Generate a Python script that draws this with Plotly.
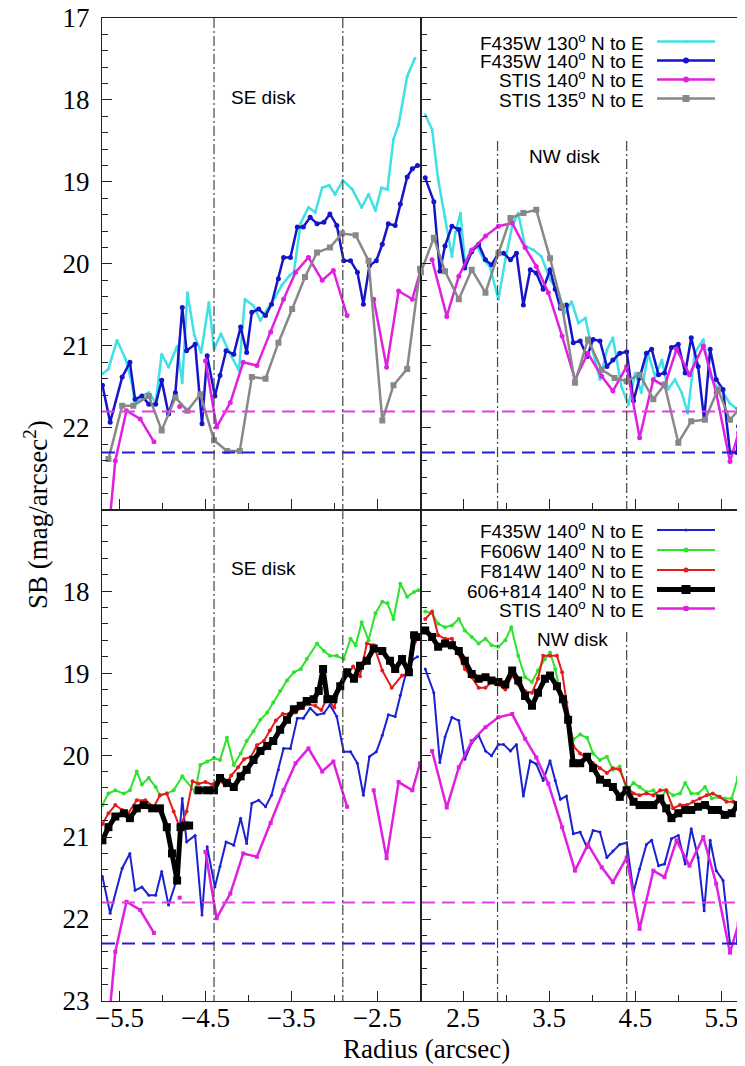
import plotly.graph_objects as go
from plotly.subplots import make_subplots

# ---------------- data ----------------
# F435W 130 deg (top panels only)
F435W_130_SE_R = [-5.70, -5.63, -5.53, -5.43, -5.36, -5.32, -5.24, -5.16, -5.08, -5.01, -4.93, -4.83, -4.77, -4.71,
                  -4.63, -4.55, -4.46, -4.40, -4.32, -4.23, -4.11, -4.04, -3.94, -3.86, -3.78, -3.69, -3.61, -3.52,
                  -3.47, -3.39, -3.30, -3.22, -3.14, -3.06, -2.99, -2.90, -2.79, -2.68, -2.60, -2.52, -2.45, -2.38,
                  -2.31, -2.25, -2.15, -2.06]
F435W_130_SE_SB = [21.34, 21.28, 20.93, 21.16, 21.44, 21.71, 21.61, 21.57, 21.69, 21.10, 21.26, 21.00, 21.45, 20.35,
                   20.87, 21.08, 20.47, 21.04, 20.85, 21.06, 21.30, 20.43, 20.51, 20.69, 20.55, 20.41, 20.26, 20.14,
                   20.10, 19.50, 19.31, 19.37, 19.07, 19.04, 19.15, 18.98, 19.09, 19.31, 19.15, 19.35, 19.07, 19.09,
                   18.48, 18.30, 17.71, 17.49]
F435W_130_NW_R = [2.06, 2.14, 2.21, 2.29, 2.37, 2.41, 2.47, 2.52, 2.58, 2.66, 2.74, 2.81, 2.91, 2.99, 3.07, 3.14,
                  3.22, 3.32, 3.41, 3.51, 3.61, 3.68, 3.76, 3.84, 3.92, 3.99, 4.09, 4.17, 4.24, 4.34, 4.42, 4.50,
                  4.57, 4.65, 4.73, 4.81, 4.88, 4.96, 5.04, 5.11, 5.19, 5.29, 5.37, 5.44, 5.52, 5.60, 5.69]
F435W_130_NW_SB = [18.18, 18.36, 18.97, 19.42, 19.91, 19.62, 19.38, 19.99, 19.85, 19.78, 19.95, 20.03, 20.43, 19.95,
                   19.54, 19.38, 19.78, 19.83, 19.91, 20.19, 20.35, 20.60, 20.46, 20.72, 20.66, 21.00, 21.41, 21.05,
                   20.90, 21.50, 21.72, 21.33, 21.57, 21.09, 21.37, 21.17, 21.53, 21.41, 21.57, 21.82, 21.09, 20.92,
                   21.37, 21.49, 21.57, 21.70, 21.78]

# F435W 140 deg (both panels)
F435W_140_SE_R = [-5.70, -5.61, -5.47, -5.38, -5.32, -5.24, -5.16, -5.08, -5.01, -4.93, -4.85, -4.77, -4.72, -4.62,
                  -4.54, -4.48, -4.39, -4.33, -4.26, -4.17, -4.09, -4.02, -3.96, -3.88, -3.80, -3.73, -3.65, -3.59,
                  -3.51, -3.43, -3.36, -3.28, -3.20, -3.12, -3.05, -2.97, -2.89, -2.81, -2.73, -2.66, -2.59, -2.51,
                  -2.44, -2.37, -2.29, -2.23, -2.15, -2.09, -2.03]
F435W_140_SE_SB = [21.48, 21.93, 21.38, 21.20, 21.65, 21.61, 21.71, 21.71, 21.42, 21.83, 21.57, 20.53, 21.06, 20.98,
                   21.95, 21.12, 21.61, 21.36, 21.06, 21.10, 20.77, 21.08, 20.59, 20.55, 20.63, 20.49, 20.18, 19.92,
                   19.92, 19.55, 19.55, 19.43, 19.51, 19.49, 19.39, 19.53, 19.96, 19.96, 20.10, 20.49, 20.02, 19.96,
                   19.76, 19.51, 19.53, 19.27, 18.94, 18.84, 18.80]
F435W_140_NW_R = [2.06, 2.16, 2.23, 2.29, 2.37, 2.45, 2.52, 2.60, 2.68, 2.76, 2.83, 2.91, 2.97, 3.05, 3.12, 3.20,
                  3.28, 3.35, 3.43, 3.51, 3.57, 3.63, 3.70, 3.78, 3.86, 3.94, 4.01, 4.09, 4.17, 4.24, 4.32, 4.40,
                  4.48, 4.55, 4.63, 4.69, 4.77, 4.84, 4.92, 5.00, 5.08, 5.15, 5.23, 5.30, 5.37, 5.44, 5.52, 5.60,
                  5.68, 5.70]
F435W_140_NW_SB = [18.95, 19.24, 20.09, 19.78, 19.54, 19.58, 20.05, 19.85, 19.76, 19.95, 20.01, 19.87, 19.87, 19.95,
                   19.87, 20.50, 20.07, 20.11, 20.31, 20.07, 20.31, 20.54, 20.50, 20.96, 20.94, 21.13, 20.92, 20.94,
                   21.25, 21.17, 21.09, 21.07, 21.67, 21.39, 21.09, 21.04, 21.35, 21.33, 21.02, 20.98, 21.33, 20.90,
                   21.25, 21.90, 21.04, 21.41, 21.53, 22.30, 22.30, 21.98]

# STIS 140 deg (both panels, with gaps)
STIS_140_SE_R = [-5.63, -5.55, -5.42, -5.26, -5.10, None, -4.80, None, -4.50, -4.37, -4.21, -4.06, -3.90, -3.74,
                 -3.59, -3.45, -3.30, -3.14, -3.01, -2.85, None, -2.54, -2.39, -2.25, -2.09, -2.00]
STIS_140_SE_SB = [23.30, 22.40, 21.79, 21.89, 22.17, None, 21.74, None, 21.18, 21.99, 21.69, 21.20, 21.24, 20.83,
                  20.43, 20.10, 19.92, 20.20, 20.08, 20.63, None, 20.43, 21.26, 20.33, 20.43, 20.10]
STIS_140_NW_R = [2.14, 2.31, 2.45, 2.60, 2.76, 2.91, 3.07, 3.22, 3.35, 3.49, 3.65, 3.80, 3.95, 4.11, 4.24, 4.40,
                 4.55, 4.71, 4.84, 4.98, 5.13, 5.29, 5.44, 5.60, 5.70]
STIS_140_NW_SB = [19.95, 20.64, 20.15, 19.83, 19.66, 19.54, 19.50, 19.80, 20.03, 20.35, 20.88, 21.41, 21.09, 21.37,
                  21.55, 21.25, 22.12, 21.41, 21.49, 21.04, 21.35, 21.00, 21.57, 22.41, 22.06]

# STIS 135 deg (top panels only)
STIS_135_SE_R = [-5.63, -5.47, -5.34, -5.16, -5.01, -4.85, -4.71, -4.56, -4.40, -4.25, -4.10, -3.96, -3.80, -3.65,
                 -3.49, -3.34, -3.20, -3.05, -2.91, -2.75, -2.60, -2.44, -2.31, -2.15, -2.00]
STIS_135_SE_SB = [22.38, 21.73, 21.73, 21.61, 22.03, 21.63, 21.79, 21.59, 22.15, 22.28, 22.28, 21.38, 21.40, 20.96,
                  20.55, 20.16, 19.86, 19.80, 19.63, 19.65, 19.96, 21.91, 21.48, 21.28, 20.06]
STIS_135_NW_R = [2.01, 2.16, 2.29, 2.45, 2.60, 2.76, 2.91, 3.05, 3.20, 3.35, 3.51, 3.65, 3.80, 3.95, 4.11, 4.26,
                 4.40, 4.55, 4.71, 4.84, 5.00, 5.15, 5.31, 5.46, 5.60, 5.70]
STIS_135_NW_SB = [20.10, 19.68, 20.09, 20.43, 20.07, 20.35, 19.87, 19.44, 19.38, 19.34, 19.93, 20.52, 21.45, 20.92,
                  21.29, 21.39, 21.43, 21.35, 21.65, 21.47, 22.18, 21.92, 21.90, 21.53, 21.90, 21.78]

# F606W 140 deg (bottom panels)
F606W_SE_R = [-5.70, -5.63, -5.55, -5.45, -5.38, -5.30, -5.24, -5.16, -5.08, -5.03, -4.95, -4.87, -4.77, -4.62,
              -4.56, -4.48, -4.40, -4.33, -4.25, -4.17, -4.09, -4.02, -3.94, -3.86, -3.78, -3.71, -3.63, -3.55,
              -3.47, -3.39, -3.32, -3.20, -3.12, -3.05, -2.97, -2.89, -2.81, -2.75, -2.68, -2.60, -2.52, -2.44,
              -2.38, -2.31, -2.23, -2.15, -2.07, -2.02]
F606W_SE_SB = [20.61, 20.47, 20.43, 20.47, 20.43, 20.20, 20.36, 20.28, 20.39, 20.49, 20.47, 20.43, 20.26, 20.45,
               20.12, 20.08, 20.04, 20.06, 19.79, 20.12, 19.98, 19.83, 19.71, 19.57, 19.48, 19.36, 19.22, 19.09,
               18.99, 18.95, 18.83, 18.64, 18.73, 18.79, 18.79, 18.83, 18.58, 18.66, 18.38, 18.60, 18.27, 18.13,
               18.15, 18.34, 17.91, 18.07, 18.01, 17.99]
F606W_NW_R = [2.06, 2.14, 2.21, 2.29, 2.37, 2.45, 2.52, 2.60, 2.68, 2.76, 2.83, 2.91, 2.99, 3.06, 3.14, 3.22, 3.30,
              3.37, 3.45, 3.51, 3.57, 3.63, 3.70, 3.78, 3.86, 3.94, 4.01, 4.09, 4.17, 4.24, 4.32, 4.40, 4.48, 4.55,
              4.63, 4.71, 4.79, 4.86, 4.94, 5.02, 5.08, 5.15, 5.23, 5.31, 5.39, 5.46, 5.54, 5.62, 5.69]
F606W_NW_SB = [18.25, 18.27, 18.40, 18.44, 18.42, 18.34, 18.48, 18.56, 18.64, 18.58, 18.66, 18.68, 18.60, 18.44,
               18.79, 19.05, 19.11, 18.97, 18.83, 18.75, 18.95, 19.24, 19.52, 19.81, 19.75, 19.79, 19.98, 20.06,
               20.02, 20.18, 20.14, 20.43, 20.34, 20.39, 20.45, 20.43, 20.53, 20.43, 20.49, 20.47, 20.34, 20.47,
               20.47, 20.39, 20.53, 20.51, 20.53, 20.53, 20.28]

# F814W 140 deg (bottom panels)
F814W_SE_R = [-5.70, -5.63, -5.55, -5.47, -5.40, -5.30, -5.20, -5.10, -5.03, -4.95, -4.87, -4.80, -4.72, -4.65,
              -4.58, -4.50, -4.42, -4.35, -4.27, -4.20, -4.12, -4.05, -3.97, -3.90, -3.82, -3.75, -3.68, -3.60,
              -3.53, -3.45, -3.38, -3.30, -3.22, -3.15, -3.08, -3.00, -2.93, -2.85, -2.78, -2.70, -2.62, -2.54,
              -2.44, -2.33, -2.21, -2.13, -2.06, -2.00]
F814W_SE_SB = [20.84, 20.71, 20.61, 20.67, 20.71, 20.55, 20.55, 20.63, 20.49, 20.47, 20.69, 20.88, 20.69, 20.32,
               20.35, 20.33, 20.36, 20.30, 20.37, 20.25, 20.15, 20.05, 20.02, 19.88, 19.83, 19.70, 19.58, 19.50,
               19.50, 19.48, 19.42, 19.38, 19.40, 19.45, 19.30, 19.42, 19.15, 19.03, 18.92, 19.04, 18.64, 18.66,
               18.97, 19.18, 19.03, 19.01, 18.62, 18.55]
F814W_NW_R = [2.06, 2.14, 2.21, 2.29, 2.37, 2.45, 2.52, 2.60, 2.68, 2.76, 2.83, 2.91, 2.99, 3.07, 3.14, 3.22, 3.30,
              3.37, 3.43, 3.51, 3.59, 3.65, 3.70, 3.78, 3.86, 3.94, 4.01, 4.09, 4.17, 4.24, 4.32, 4.40, 4.48, 4.55,
              4.63, 4.71, 4.79, 4.86, 4.94, 5.02, 5.10, 5.17, 5.25, 5.33, 5.40, 5.48, 5.56, 5.64, 5.69]
F814W_NW_SB = [18.34, 18.25, 18.54, 18.58, 18.58, 18.77, 18.95, 19.05, 19.18, 19.18, 19.11, 19.14, 19.20, 19.03,
               19.14, 19.22, 19.24, 19.07, 18.79, 18.79, 18.79, 18.99, 19.36, 19.89, 19.98, 20.04, 20.10, 20.16,
               20.22, 20.16, 20.18, 20.39, 20.47, 20.49, 20.47, 20.49, 20.43, 20.43, 20.65, 20.61, 20.61, 20.57,
               20.53, 20.49, 20.47, 20.51, 20.57, 20.57, 20.61]

# 606+814 140 deg (bottom panels, with a gap)
COMB_SE_R = [-5.70, -5.63, -5.55, -5.45, -5.38, -5.30, -5.22, -5.12, -5.03, -4.95, -4.89, -4.83, -4.79, -4.74, -4.69,
             None, -4.58, -4.48, -4.40, -4.33, -4.25, -4.17, -4.09, -4.02, -3.94, -3.86, -3.78, -3.71, -3.63, -3.55,
             -3.47, -3.39, -3.32, -3.24, -3.18, -3.13, -3.08, -3.01, -2.93, -2.85, -2.77, -2.70, -2.62, -2.54, -2.44,
             -2.35, -2.29, -2.21, -2.13, -2.07, -2.01]
COMB_SE_SB = [21.04, 20.88, 20.75, 20.71, 20.77, 20.65, 20.61, 20.65, 20.65, 20.88, 21.20, 21.53, 20.88, 20.86, 20.86,
              None, 20.43, 20.43, 20.43, 20.28, 20.34, 20.39, 20.26, 20.18, 20.06, 19.95, 19.89, 19.83, 19.69, 19.57,
              19.44, 19.40, 19.34, 19.32, 19.22, 18.95, 19.32, 19.32, 19.16, 18.99, 19.07, 18.91, 18.85, 18.70, 18.73,
              18.85, 18.95, 18.83, 18.99, 18.54, 18.56]
COMB_NW_R = [2.06, 2.14, 2.21, 2.29, 2.37, 2.45, 2.52, 2.60, 2.68, 2.76, 2.83, 2.91, 2.99, 3.07, 3.14, 3.22, 3.30,
             3.37, 3.45, 3.51, 3.59, 3.66, 3.72, 3.78, 3.86, 3.94, 4.01, 4.09, 4.17, 4.24, 4.32, 4.40, 4.48, 4.55,
             4.63, 4.71, 4.79, 4.86, 4.92, 5.00, 5.08, 5.15, 5.23, 5.31, 5.39, 5.46, 5.54, 5.62, 5.69]
COMB_NW_SB = [18.48, 18.56, 18.68, 18.64, 18.66, 18.73, 18.85, 19.01, 19.07, 19.05, 19.09, 19.11, 19.14, 18.97, 19.09,
              19.28, 19.40, 19.24, 19.07, 19.03, 19.16, 19.32, 19.57, 20.10, 20.10, 20.02, 20.16, 20.30, 20.34, 20.39,
              20.51, 20.43, 20.57, 20.61, 20.61, 20.61, 20.53, 20.65, 20.77, 20.71, 20.67, 20.67, 20.63, 20.61, 20.67,
              20.67, 20.73, 20.71, 20.61]

# reference levels and disk boundaries
LIMIT_STIS = 21.8
LIMIT_F435W = 22.3
DISK_EDGES_SE = [-4.4, -2.9]
DISK_EDGES_NW = [2.9, 4.4]

TOP_LEGEND = ["F435W 130<sup>o</sup> N to E", "F435W 140<sup>o</sup> N to E",
              "STIS 140<sup>o</sup> N to E", "STIS 135<sup>o</sup> N to E"]
BOT_LEGEND = ["F435W 140<sup>o</sup> N to E", "F606W 140<sup>o</sup> N to E", "F814W 140<sup>o</sup> N to E",
              "606+814 140<sup>o</sup> N to E", "STIS 140<sup>o</sup> N to E"]

for a, b in [(F435W_130_SE_R, F435W_130_SE_SB), (F435W_130_NW_R, F435W_130_NW_SB),
             (F435W_140_SE_R, F435W_140_SE_SB), (F435W_140_NW_R, F435W_140_NW_SB),
             (STIS_140_SE_R, STIS_140_SE_SB), (STIS_140_NW_R, STIS_140_NW_SB),
             (STIS_135_SE_R, STIS_135_SE_SB), (STIS_135_NW_R, STIS_135_NW_SB),
             (F606W_SE_R, F606W_SE_SB), (F606W_NW_R, F606W_NW_SB), (F814W_SE_R, F814W_SE_SB),
             (F814W_NW_R, F814W_NW_SB), (COMB_SE_R, COMB_SE_SB), (COMB_NW_R, COMB_NW_SB)]:
    assert len(a) == len(b), (len(a), len(b))

# ---------------- styling ----------------
CYAN = "#3fe0e6"
BLUE = "#1414c8"
BLUE2 = "#1a22d2"
MAG = "#e020e0"
GRAY = "#888888"
GREEN = "#2ee22e"
RED = "#e41c1c"
BLACK = "#000000"

# the page body has an 8px margin: size the figure so it fits in the window
OFF = 8
W, H = 745 - OFF, 1066 - OFF
ML, MR, MT, MB = 102 - OFF, 6, 18 - OFF, 65
PW, PH = W - ML - MR, H - MT - MB

fig = make_subplots(rows=2, cols=2, horizontal_spacing=0, vertical_spacing=0)


def add(r, sb, row, col, color, width, sym, size):
    fig.add_trace(go.Scatter(x=r, y=sb, mode="lines+markers",
                             line=dict(color=color, width=width),
                             marker=dict(symbol=sym, size=size, color=color, line=dict(width=0)),
                             showlegend=False, hoverinfo="skip"), row=row, col=col)


# top panels
add(F435W_130_SE_R, F435W_130_SE_SB, 1, 1, CYAN, 2.5, "circle", 3)
add(F435W_140_SE_R, F435W_140_SE_SB, 1, 1, BLUE, 2.5, "circle", 5)
add(STIS_140_SE_R, STIS_140_SE_SB, 1, 1, MAG, 2.5, "circle", 5)
add(STIS_135_SE_R, STIS_135_SE_SB, 1, 1, GRAY, 2.5, "square", 6)
add(F435W_130_NW_R, F435W_130_NW_SB, 1, 2, CYAN, 2.5, "circle", 3)
add(F435W_140_NW_R, F435W_140_NW_SB, 1, 2, BLUE, 2.5, "circle", 5)
add(STIS_140_NW_R, STIS_140_NW_SB, 1, 2, MAG, 2.5, "circle", 5)
add(STIS_135_NW_R, STIS_135_NW_SB, 1, 2, GRAY, 2.5, "square", 6)

# bottom panels
add(F435W_140_SE_R, F435W_140_SE_SB, 2, 1, BLUE2, 2, "circle", 3)
add(F606W_SE_R, F606W_SE_SB, 2, 1, GREEN, 2, "circle", 4)
add(F814W_SE_R, F814W_SE_SB, 2, 1, RED, 2, "circle", 4)
add(COMB_SE_R, COMB_SE_SB, 2, 1, BLACK, 5, "square", 8)
add(STIS_140_SE_R, STIS_140_SE_SB, 2, 1, MAG, 2.5, "square", 4)
add(F435W_140_NW_R, F435W_140_NW_SB, 2, 2, BLUE2, 2, "circle", 3)
add(F606W_NW_R, F606W_NW_SB, 2, 2, GREEN, 2, "circle", 4)
add(F814W_NW_R, F814W_NW_SB, 2, 2, RED, 2, "circle", 4)
add(COMB_NW_R, COMB_NW_SB, 2, 2, BLACK, 5, "square", 8)
add(STIS_140_NW_R, STIS_140_NW_SB, 2, 2, MAG, 2.5, "square", 4)

TICKFONT = dict(family="Liberation Serif", size=27, color="black")
common = dict(showgrid=False, zeroline=False, showline=True, linecolor="#222", linewidth=1.2,
              mirror=True, ticks="inside", ticklen=10, tickcolor="#222", tickwidth=1.2, tickfont=TICKFONT,
              automargin=False, ticklabeloverflow="allow")

xl = dict(range=[-5.705, -1.995], tick0=-5.5, dtick=1,
          minor=dict(tick0=-5.5, dtick=0.5, ticks="inside", ticklen=6, tickcolor="#222"))
xr = dict(range=[2.005, 5.705], tick0=2.5, dtick=1,
          minor=dict(tick0=2.5, dtick=0.5, ticks="inside", ticklen=6, tickcolor="#222"))
ymin = dict(tick0=17, dtick=1, minor=dict(tick0=17, dtick=0.2, ticks="inside", ticklen=6, tickcolor="#222"))

fig.update_xaxes(**common, **xl, showticklabels=False, row=1, col=1)
fig.update_xaxes(**common, **xr, showticklabels=False, row=1, col=2)
fig.update_xaxes(**common, **xl, showticklabels=True, ticklabelstandoff=-8, row=2, col=1)
fig.update_xaxes(**common, **xr, showticklabels=True, ticklabelstandoff=-8, row=2, col=2)
fig.update_yaxes(**common, **ymin, range=[22.995, 17], showticklabels=True, ticklabelstandoff=6, row=1, col=1)
fig.update_yaxes(**common, **ymin, range=[22.995, 17], showticklabels=False, row=1, col=2)
fig.update_yaxes(**common, **ymin, range=[23, 17.005], showticklabels=True, ticklabelstandoff=6, row=2, col=1)
fig.update_yaxes(**common, **ymin, range=[23, 17.005], showticklabels=False, row=2, col=2)

# horizontal detection limits
for yref in ["y", "y3"]:
    fig.add_shape(type="line", xref="paper", yref=yref, x0=0, x1=1, y0=LIMIT_STIS, y1=LIMIT_STIS,
                  line=dict(color="#e040e0", width=2, dash="13px,7px"))
    fig.add_shape(type="line", xref="paper", yref=yref, x0=0, x1=1, y0=LIMIT_F435W, y1=LIMIT_F435W,
                  line=dict(color="#2020d0", width=2, dash="13px,7px"))

# disk boundaries
DD = dict(color="#444", width=1.2, dash="10px,3px,2px,3px")
for xref, yref in [("x", "y"), ("x3", "y3")]:
    for xv in DISK_EDGES_SE:
        fig.add_shape(type="line", xref=xref, yref=yref, x0=xv, x1=xv, y0=17, y1=23, line=DD)
for xref, yref in [("x2", "y2"), ("x4", "y4")]:
    for xv in DISK_EDGES_NW:
        fig.add_shape(type="line", xref=xref, yref=yref, x0=xv, x1=xv, y0=18.5, y1=23, line=DD)

LABFONT = dict(family="Liberation Sans", size=19, color="black")
fig.add_annotation(x=-3.82, y=17.97, xref="x", yref="y", text="SE disk", showarrow=False, font=LABFONT)
fig.add_annotation(x=-3.82, y=17.72, xref="x3", yref="y3", text="SE disk", showarrow=False, font=LABFONT)
fig.add_annotation(x=3.675, y=18.69, xref="x2", yref="y2", text="NW disk", showarrow=False, font=LABFONT)
fig.add_annotation(x=3.77, y=18.59, xref="x4", yref="y4", text="NW disk", showarrow=False, font=LABFONT)


# helpers: positions given in the reference picture's pixels
def px(xp):
    return (xp - OFF - ML) / PW


def py(yp):
    return 1 - (yp - OFF - MT) / PH


# legends (drawn manually: right-aligned text with the sample on the right)
def legend_row(label, ypix, color, width, sym, size):
    fig.add_annotation(x=px(646), y=py(ypix), xref="paper", yref="paper", text=label, showarrow=False,
                       xanchor="right", yanchor="middle", font=LABFONT)
    fig.add_shape(type="line", xref="paper", yref="paper", x0=px(657), x1=px(715), y0=py(ypix), y1=py(ypix),
                  line=dict(color=color, width=width))
    if size > 0:
        h = size / 2
        fig.add_shape(type="circle" if sym == "circle" else "rect", xref="paper", yref="paper",
                      x0=px(686 - h), x1=px(686 + h), y0=py(ypix - h), y1=py(ypix + h),
                      line=dict(width=0), fillcolor=color)


top_styles = [(CYAN, 2.5, "circle", 3), (BLUE, 2.5, "circle", 6), (MAG, 2.5, "circle", 6), (GRAY, 2.5, "square", 7)]
for lab, yp, st in zip(TOP_LEGEND, [41.5, 60.5, 79.5, 98.5], top_styles):
    legend_row(lab, yp, *st)
bot_styles = [(BLUE2, 2, "circle", 3), (GREEN, 2, "circle", 5), (RED, 2, "circle", 5), (BLACK, 5, "square", 9),
              (MAG, 2.5, "square", 5)]
for lab, yp, st in zip(BOT_LEGEND, [530, 550, 570, 589.5, 608.5], bot_styles):
    legend_row(lab, yp, *st)

TITLEFONT = dict(family="Liberation Serif", size=27, color="black")
fig.add_annotation(x=px(36), y=py(515), xref="paper", yref="paper", text="SB (mag/arcsec<sup>2</sup>)",
                   textangle=-90, showarrow=False, font=TITLEFONT, xanchor="center", yanchor="middle")
fig.add_annotation(x=px(426), y=py(1049), xref="paper", yref="paper", text="Radius (arcsec)",
                   showarrow=False, font=TITLEFONT, xanchor="center", yanchor="middle")

fig.update_layout(width=W, height=H, margin=dict(l=ML, r=MR, t=MT, b=MB),
                  plot_bgcolor="white", paper_bgcolor="white", showlegend=False)

fig.write_html("out.html")
